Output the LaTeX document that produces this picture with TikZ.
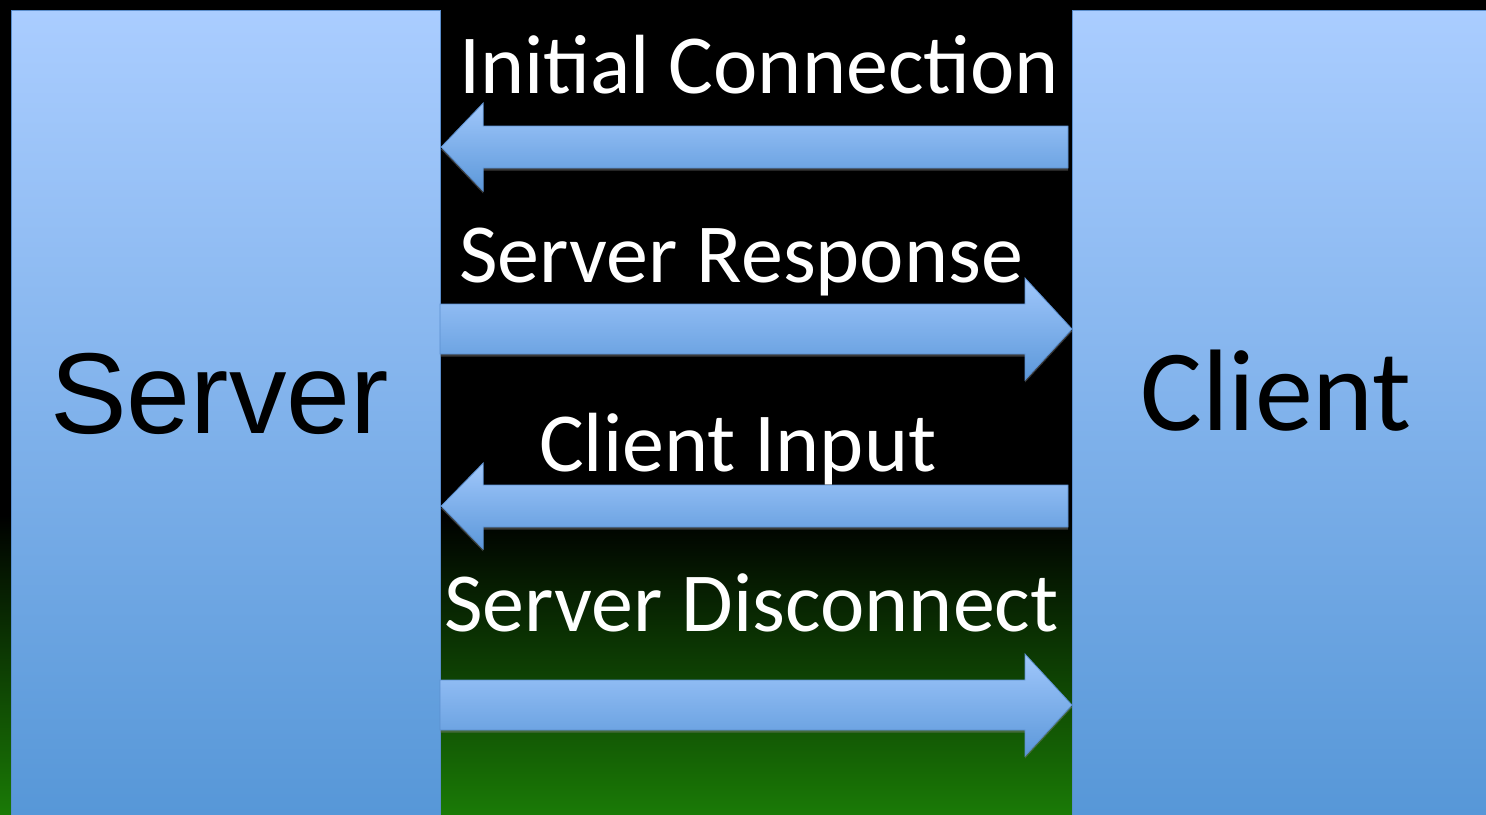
\documentclass[tikz,border=0pt]{standalone}
\usepackage{fontspec}
\setmainfont{Carlito}
\newfontfamily\arialfont{Liberation Sans}
\usetikzlibrary{calc,shadows}

\definecolor{boxtop}{HTML}{AACDFF}
\definecolor{boxbot}{HTML}{5596D7}
\definecolor{boxedge}{HTML}{5A8DCB}
\definecolor{arrtop}{HTML}{A0C7FB}
\definecolor{arrbot}{HTML}{5C98DA}
\definecolor{arredge}{HTML}{5B8FCF}
\definecolor{grassgreen}{HTML}{1A7A06}

\tikzset{
  panel/.style={draw=boxedge, line width=1.2pt, top color=boxtop, bottom color=boxbot,
    inner sep=0pt, anchor=north west},
  blockarrow/.style={draw=arredge, line width=0.8pt, top color=arrtop, bottom color=arrbot,
    drop shadow={opacity=0.45, shadow xshift=0pt, shadow yshift=-2.5pt}},
  msg/.style={text=white, inner sep=0pt, anchor=base west, font=\fontsize{84}{84}\selectfont},
}

% block arrow pointing left: tip node, tail node, head length, shaft half-height, head half-height
\newcommand{\leftblock}[5]{%
  \path[blockarrow] (#1) -- ($(#1)+(#3,-#5)$) -- ($(#1)+(#3,-#4)$) -- ($(#2)+(0,-#4)$)
    -- ($(#2)+(0,#4)$) -- ($(#1)+(#3,#4)$) -- ($(#1)+(#3,#5)$) -- cycle;}
% block arrow pointing right
\newcommand{\rightblock}[5]{%
  \path[blockarrow] (#1) -- ($(#1)+(-#3,-#5)$) -- ($(#1)+(-#3,-#4)$) -- ($(#2)+(0,-#4)$)
    -- ($(#2)+(0,#4)$) -- ($(#1)+(-#3,#4)$) -- ($(#1)+(-#3,#5)$) -- cycle;}

\begin{document}
\begin{tikzpicture}[x=1pt, y=-1pt]
  \useasboundingbox (0,0) rectangle (1486,814);
  % backdrop: black fading into green at the bottom
  \fill[black] (0,0) rectangle (1486,814);
  \shade[top color=black, bottom color=grassgreen] (0,515) rectangle (1486,814);

  % the two endpoints
  \begin{scope}
    \clip (0,0) rectangle (1486,814);
    \node[panel, minimum width=429pt, minimum height=820pt] (server) at (11,10) {};
    \node[panel, minimum width=430pt, minimum height=820pt] (client) at (1072,10) {};
  \end{scope}
  \node[inner sep=0pt, anchor=base west, font=\arialfont\fontsize{115}{115}\selectfont]
    (serverlabel) at (50,433) {Server};
  \node[inner sep=0pt, anchor=base west, font=\fontsize{116}{116}\selectfont]
    (clientlabel) at (1140,430) {Client};

  % connector end points
  \coordinate (c1tip)  at (server.east |- 0,147);
  \coordinate (c1tail) at (1068,147);
  \coordinate (s1tip)  at (client.west |- 0,329);
  \coordinate (s1tail) at (440,329);
  \coordinate (c2tip)  at (server.east |- 0,506);
  \coordinate (c2tail) at (1068,506);
  \coordinate (s2tip)  at (client.west |- 0,705);
  \coordinate (s2tail) at (440,705);

  % messages
  \leftblock{c1tip}{c1tail}{42}{21}{44}
  \rightblock{s1tip}{s1tail}{47}{25}{51}
  \leftblock{c2tip}{c2tail}{42}{21}{43}
  \rightblock{s2tip}{s2tail}{47}{25}{51}

  \node[msg] (m1) at (459,93)  {Initial Connection};
  \node[msg] (m2) at (459,282) {Server Response};
  \node[msg] (m3) at (539,471) {Client Input};
  \node[msg] (m4) at (444,631) {Server Disconnect};
\end{tikzpicture}
\end{document}
